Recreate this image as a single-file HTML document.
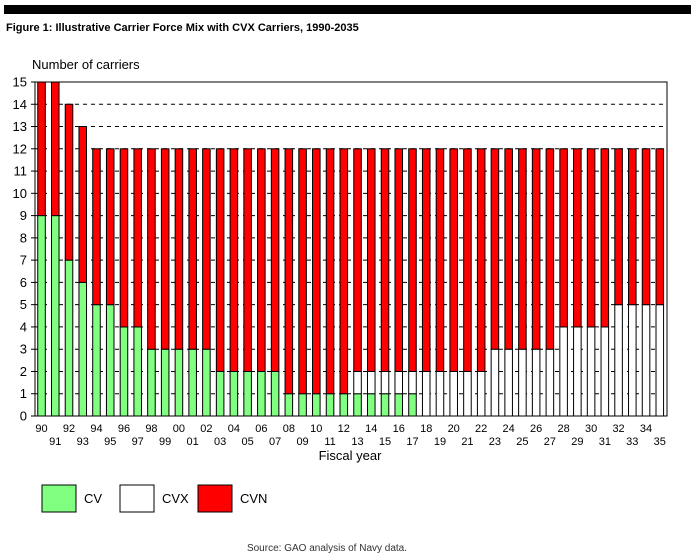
<!DOCTYPE html>
<html><head><meta charset="utf-8"><style>
body{margin:0;background:#fff;width:695px;height:555px;overflow:hidden;font-family:"Liberation Sans",Arial,sans-serif}
</style></head><body>
<svg width="695" height="555" xmlns="http://www.w3.org/2000/svg" font-family="Liberation Sans, Arial, sans-serif">
<rect x="4" y="5" width="687" height="9" fill="#000"/>
<text x="6" y="31" font-size="11" font-weight="bold">Figure 1: Illustrative Carrier Force Mix with CVX Carriers, 1990-2035</text>
<text x="32" y="69" font-size="13">Number of carriers</text>
<g id="plot"></g>
<text x="350" y="460" font-size="13" text-anchor="middle">Fiscal year</text>
<g>
<rect x="42" y="485" width="34" height="27" fill="#80ff80" stroke="#000"/>
<text x="84" y="503" font-size="13">CV</text>
<rect x="120" y="485" width="34" height="27" fill="#fff" stroke="#000"/>
<text x="162" y="503" font-size="13">CVX</text>
<rect x="198" y="485" width="34" height="27" fill="#ff0000" stroke="#000"/>
<text x="240" y="503" font-size="13">CVN</text>
</g>
<text x="327" y="551" font-size="10" text-anchor="middle" fill="#333">Source: GAO analysis of Navy data.</text>
</svg>
<script>
const years=[];for(let y=1990;y<=2035;y++)years.push(String(y%100).padStart(2,'0'));
const cv=[9,9,7,6,5,5,4,4,3,3,3,3,3,2,2,2,2,2,1,1,1,1,1,1,1,1,1,1,0,0,0,0,0,0,0,0,0,0,0,0,0,0,0,0,0,0];
const cvx=[0,0,0,0,0,0,0,0,0,0,0,0,0,0,0,0,0,0,0,0,0,0,0,1,1,1,1,1,2,2,2,2,2,3,3,3,3,3,4,4,4,4,5,5,5,5];
const cvn=[6,6,7,7,7,7,8,8,9,9,9,9,9,10,10,10,10,10,11,11,11,11,11,10,10,10,10,10,10,10,10,10,10,9,9,9,9,9,8,8,8,8,7,7,7,7];
const yTicks=[0,1,2,3,4,5,6,7,8,9,10,11,12,13,14,15];
const L=35,R=667,T=82,B=416,yMax=15;
const ys=v=>B-(B-T)*v/yMax;
const slot=(R-L)/years.length;
const xs=i=>L+slot*i+slot*0.2;
const bw=slot*0.55;
const NS='http://www.w3.org/2000/svg';
const g=document.getElementById('plot');
function mk(t,a){const e=document.createElementNS(NS,t);for(const k in a)e.setAttribute(k,a[k]);g.appendChild(e);return e;}
yTicks.forEach(v=>{
 if(v>0&&v<15){const l=mk('line',{x1:L,x2:R,y1:ys(v),y2:ys(v),stroke:'#000','stroke-dasharray':'4,4','stroke-width':1});
 
 }
 const tk=mk('line',{x1:L-4,x2:L,y1:ys(v),y2:ys(v),stroke:'#000'});
 
 
 const t=mk('text',{x:L-8,y:ys(v)+4.5,'font-size':13,'text-anchor':'end'});t.textContent=v;
 
 
});
years.forEach((yr,i)=>{
 const x=xs(i);let base=0;
 [[cv[i],'#80ff80','cv'],[cvx[i],'#ffffff','cvx'],[cvn[i],'#ff0000','cvn']].forEach(([v,c,n])=>{
  if(v>0){const r=mk('rect',{x:x,y:ys(base+v),width:bw,height:ys(base)-ys(base+v),fill:c,stroke:'#000','stroke-width':1});
  
  }
  base+=v;
 });
 const t=mk('text',{x:x+bw/2,y:i%2===0?432:445,'font-size':11,'text-anchor':'middle'});t.textContent=yr;
 
 
});
const f=mk('rect',{x:L,y:T,width:R-L,height:B-T,fill:'none',stroke:'#000','stroke-width':1});


</script>
</body></html>
